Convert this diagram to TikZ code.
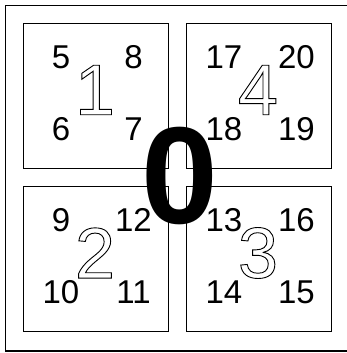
\documentclass[tikz,border=0pt]{standalone}
\usepackage{fontspec}
\setmainfont{Liberation Sans}
\usetikzlibrary{calc}
% hollow (outlined) glyphs through the PDF text render mode
\newcommand{\hollow}[1]{\special{pdf:literal direct 0.9 w 1 Tr}#1\special{pdf:literal direct 0 Tr}}
\tikzset{
  quad/.style={draw,line width=1.2pt,minimum size=145pt,inner sep=0pt},
  num/.style={font=\fontsize{33}{33}\selectfont,inner sep=0pt},
  bignum/.style={font=\fontsize{72}{72}\selectfont,inner sep=0pt},
}

\begin{document}
\begin{tikzpicture}[x=1pt,y=-1pt]
\useasboundingbox (0,0) rectangle (346,353);
\draw[line width=1.2pt] (5.5,5.5) rectangle (351,351);
\foreach \q/\sx/\sy/\a/\b/\c/\d in {1/23/23/5/8/6/7,4/186/23/17/20/18/19,2/23/186/9/12/10/11,3/186/186/13/16/14/15} {
  \node[quad,anchor=north west] (q\q) at (\sx,\sy) {};
  \node[bignum] (big\q) at (\sx+72,\sy+67) {\hollow{\q}};
  \node[num] (n\a) at (\sx+38,\sy+34) {\a};
  \node[num] (n\b) at (\sx+110.5,\sy+34) {\b};
  \node[num] (n\c) at (\sx+38,\sy+106) {\c};
  \node[num] (n\d) at (\sx+110.5,\sy+106) {\d};
}
\node[font=\bfseries\fontsize{138}{138}\selectfont,inner sep=0pt] (zero) at (180,176) {0};
\end{tikzpicture}
\end{document}
